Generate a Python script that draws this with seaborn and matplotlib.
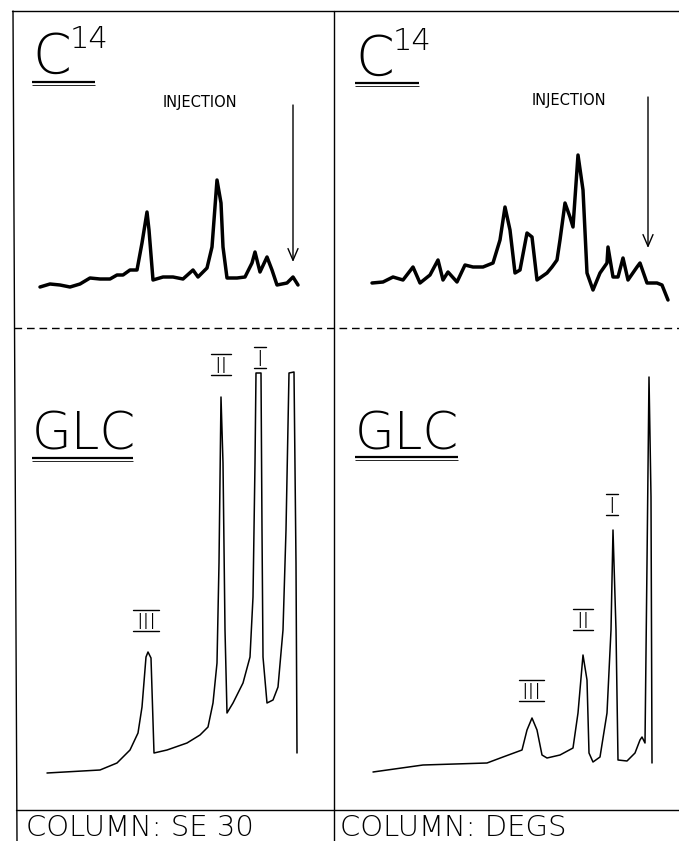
import matplotlib
matplotlib.use("Agg")
import numpy as np
import pandas as pd
import matplotlib.pyplot as plt
import seaborn as sns
from matplotlib import font_manager as fm

sns.set_theme(style="white")
plt.rcParams["font.family"] = ["DejaVu Sans"]

# ---------------- data (chart position, pen deflection) ----------------
# C14 radioactivity trace, column SE 30
c14_se30_pos = [25, 35, 45, 55, 65, 75, 85, 95, 102, 108, 115, 122, 127, 132, 134, 138,
                148, 158, 168, 178, 183, 192, 197, 202, 206, 208, 212, 222, 230, 237,
                240, 245, 252, 257, 262, 272, 278, 283]
c14_se30_sig = [41, 44, 43, 41, 44, 50, 49, 49, 53, 53, 58, 58, 85, 116, 98, 48,
                51, 51, 49, 58, 51, 60, 81, 148, 125, 81, 50, 50, 51, 65,
                76, 56, 71, 58, 43, 45, 51, 43]

# C14 radioactivity trace, column DEGS
c14_degs_pos = [38, 49, 59, 69, 79, 86, 96, 104, 109, 114, 123, 131, 139, 149, 159, 166,
                171, 176, 181, 186, 193, 198, 203, 213, 218, 223, 226, 231, 236, 239,
                244, 249, 253, 259, 266, 273, 274, 279, 284, 289, 294, 303, 306, 313,
                323, 328, 334]
c14_degs_sig = [45, 46, 51, 48, 61, 45, 53, 68, 48, 56, 46, 63, 61, 61, 65, 88,
                121, 98, 55, 58, 95, 91, 48, 55, 61, 68, 88, 125, 111, 101,
                173, 138, 55, 38, 55, 65, 81, 51, 51, 70, 48, 61, 65, 45,
                45, 43, 28]

# GLC detector trace, column SE 30
glc_se30_pos = [32, 85, 102, 115, 123, 127, 131, 133, 136, 139, 152, 172, 185, 193, 198,
                202, 204, 206, 208, 210, 212, 218, 228, 235, 238, 240, 241, 246, 247,
                248, 252, 258, 263, 268, 271, 274, 279, 281, 282]
glc_se30_sig = [37, 40, 47, 60, 77, 103, 153, 158, 152, 57, 60, 67, 75, 83, 107,
                147, 247, 413, 347, 180, 97, 107, 127, 153, 213, 347, 437, 437, 280,
                153, 107, 110, 123, 180, 280, 437, 438, 247, 57]

# GLC detector trace, column DEGS
glc_degs_pos = [39, 89, 153, 169, 188, 193, 198, 203, 208, 213, 226, 239, 244, 249, 253,
                255, 259, 266, 273, 277, 279, 282, 284, 293, 301, 306, 308, 311, 313,
                315, 317, 318]
glc_degs_sig = [38, 45, 47, 53, 60, 80, 92, 80, 55, 52, 55, 62, 97, 155, 130,
                57, 48, 53, 97, 180, 280, 180, 50, 49, 57, 70, 73, 67, 247,
                433, 313, 47]

# peak labels
peak_names = ["III", "II", "I"]
se30_label_pos = [131, 206, 245]
se30_label_sig = [189, 445, 452]
degs_label_pos = [197.5, 249, 278]
degs_label_sig = [119, 190, 305]

column_names = ["SE 30", "DEGS"]


# ---------------- pick a thin lettering font if one is installed ----------------
def light_font():
    prefs = ["DejaVu Sans", "Roboto", "Lato", "Open Sans", "Inter", "Noto Sans"]
    best = None
    for fam in prefs:
        for f in fm.fontManager.ttflist:
            if f.name != fam or f.style != "normal":
                continue
            w = f.weight
            if isinstance(w, str):
                w = {"thin": 100, "extra light": 200, "ultralight": 200, "light": 300}.get(w.lower(), 400)
            if w < 400 and ("Condensed" not in f.fname) and ("Cond" not in f.fname):
                if best is None or abs(w - 250) < abs(best[0] - 250):
                    best = (w, f.fname)
        if best:
            return fm.FontProperties(fname=best[1])
    return fm.FontProperties(family="DejaVu Sans")


LF = light_font()

# ---------------- figure layout (pixel based) ----------------
W, H = 679, 841
fig = plt.figure(figsize=(W / 100, H / 100), dpi=100)
fig.patch.set_facecolor("white")

frame = fig.add_axes([0, 0, 1, 1])
frame.set_xlim(0, W)
frame.set_ylim(H, 0)
frame.axis("off")
lk = dict(color="black", lw=1.0)
frame.plot([12, W], [11, 11], **lk)
frame.plot([13, 17], [11, H], **lk)
frame.plot([334, 334], [11, H], **lk)
frame.plot([14, W], [328, 328], color="black", lw=1.0, linestyle=(0, (5.5, 3.5)))
frame.plot([16, W], [810, 810], **lk)


def panel(left, top, width, height):
    ax = fig.add_axes([left / W, 1 - (top + height) / H, width / W, height / H])
    ax.patch.set_alpha(0)
    return ax


ax_tl = panel(15, 11, 319, 317)
ax_tr = panel(334, 11, 345, 317)
ax_bl = panel(15, 328, 319, 482)
ax_br = panel(334, 328, 345, 482)
sizes = {ax_tl: (319, 317), ax_tr: (345, 317), ax_bl: (319, 482), ax_br: (345, 482)}


def trace(ax, pos, sig, lw):
    df = pd.DataFrame({"pos": pos, "sig": sig})
    sns.lineplot(data=df, x="pos", y="sig", ax=ax, sort=False, estimator=None,
                 color="black", lw=lw, legend=False)
    w, h = sizes[ax]
    ax.set_xlim(0, w)
    ax.set_ylim(0, h)
    ax.axis("off")


trace(ax_tl, c14_se30_pos, c14_se30_sig, 2.5)
trace(ax_tr, c14_degs_pos, c14_degs_sig, 2.5)
trace(ax_bl, glc_se30_pos, glc_se30_sig, 1.1)
trace(ax_br, glc_degs_pos, glc_degs_sig, 1.1)


def heading(ax, x, ybase, main, sup, fs, ul_y, ul_x1, sup_dy=25):
    t = ax.text(x, ybase, main, fontproperties=LF, fontsize=fs, va="baseline",
                ha="left", color="black")
    fig.canvas.draw()
    r = fig.canvas.get_renderer()
    bb = t.get_window_extent(r)
    if sup:
        x2 = ax.transData.inverted().transform((bb.x1, 0))[0]
        ax.text(x2 - 1, ybase + sup_dy, sup, fontproperties=LF, fontsize=fs * 0.55,
                va="baseline", ha="left", color="black")
    ax.plot([x, ul_x1], [ul_y, ul_y], color="black", lw=1.6, solid_capstyle="butt")
    ax.plot([x, ul_x1], [ul_y - 3, ul_y - 3], color="black", lw=0.6, solid_capstyle="butt")


heading(ax_tl, 17, 255, "C", "14", 40, 246, 80)
heading(ax_tr, 21, 253, "C", "14", 40, 245, 85)
heading(ax_bl, 17, 360, "GLC", None, 37, 352, 118)
heading(ax_br, 21, 360, "GLC", None, 37, 353, 124)

# injection markers
for ax, tx, ty, ax_x, y0, y1 in [(ax_tl, 148, 225, 278, 223, 66),
                                  (ax_tr, 198, 228, 314, 231, 80)]:
    ax.text(tx, ty, "INJECTION", fontsize=10.5, va="center", ha="left", color="black")
    ax.annotate("", xy=(ax_x, y1), xytext=(ax_x, y0),
                arrowprops=dict(arrowstyle="->,head_length=0.7,head_width=0.3",
                                color="black", lw=1.0, shrinkA=0, shrinkB=0))


def roman(ax, names, xs, ys, fs=16):
    fig.canvas.draw()
    r = fig.canvas.get_renderer()
    cap = 0.72 * fs * 100 / 72
    for n, x, y in zip(names, xs, ys):
        t = ax.text(x, y - cap / 2, n, fontproperties=LF, fontsize=fs, ha="center",
                    va="baseline", color="black")
        bb = t.get_window_extent(r)
        w = bb.width / 2 + 3
        for yy in (y + cap / 2 + 3, y - cap / 2 - 2):
            ax.plot([x - w, x + w], [yy, yy], color="black", lw=1.0)


roman(ax_bl, peak_names, se30_label_pos, se30_label_sig)
roman(ax_br, peak_names, degs_label_pos, degs_label_sig)

fig.text(26 / W, 1 - 836 / H, "COLUMN: " + column_names[0], fontproperties=LF,
         fontsize=21, ha="left", va="baseline", color="black")
fig.text(340 / W, 1 - 836 / H, "COLUMN: " + column_names[1], fontproperties=LF,
         fontsize=21, ha="left", va="baseline", color="black")

fig.savefig("out.png", dpi=100, facecolor="white")
